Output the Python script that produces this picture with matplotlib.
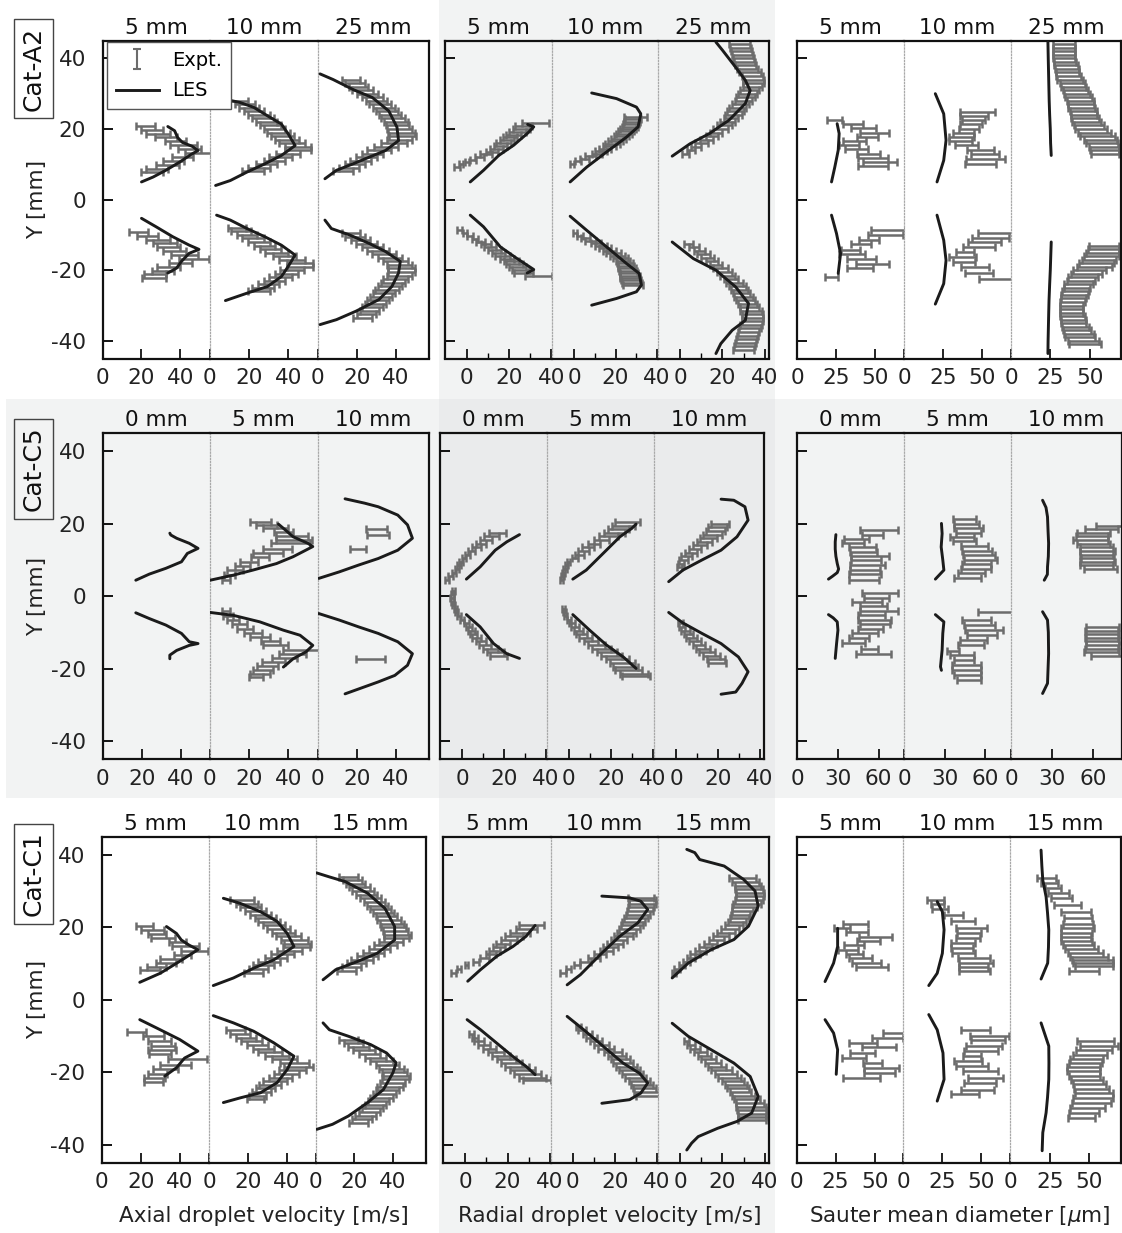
import numpy as np
import matplotlib
matplotlib.use("Agg")
import matplotlib.pyplot as plt
from matplotlib.patches import Rectangle

# ============================ DATA ============================
# Naming: <case>_<quantity>_<distance>_
#   uy/ux : LES upper branch (Y [mm], value)
#   ly/lx : LES lower branch
#   ey/ex/ee : experiment (Y [mm], value, half error)

# ---------------- Cat-A2 : axial velocity ----------------
a2_ax_5_uy = [5.0, 6.4, 8.3, 10.6, 12.8, 13.9, 15.1, 16.2, 17.6, 19.5, 20.7]
a2_ax_5_ux = [20, 26, 32.5, 39.5, 45.5, 49, 46, 41, 38.5, 37, 33.5]
a2_ax_5_ly = [-5.3, -7.7, -10.5, -12.9, -14.1, -15.2, -17.5, -19.4, -20.8]
a2_ax_5_lx = [20, 27.5, 36, 44.5, 49.5, 44.5, 40.5, 38, 33.5]
a2_ax_5_ey = [20.9, 19.8, 18.7, 17.6, 16.5, 15.4, 14.3, 13.2, 12.1, 11.0, 9.9, 8.8, 7.8,
              -9.1, -10.2, -11.3, -12.4, -13.5, -14.6, -15.7, -16.8, -17.9, -19.0, -20.1, -21.2, -22.3]
a2_ax_5_ex = [22, 25.5, 28.5, 32.5, 37.5, 41.5, 44.5, 49, 41, 36.5, 33.5, 28, 25.5,
              18.5, 23, 28.5, 32, 34, 37, 42, 47, 40, 34, 31, 27, 26.5]
a2_ax_5_ee = [4.7, 5.5, 6, 5.5, 5.5, 7, 6, 6.5, 5.5, 5.5, 6, 5.5, 5.5,
              4.8, 5.5, 6, 6, 6, 6, 7, 7.5, 6, 6, 5.5, 5.5, 6]

a2_ax_10_uy = [4.0, 5.4, 7.8, 10.1, 12.5, 15.3, 18.6, 21.4, 23.7, 26.1, 27.5, 28.2]
a2_ax_10_ux = [3, 10.5, 19, 28, 36.5, 43.5, 40, 36.5, 29.5, 22.5, 15.5, 9.5]
a2_ax_10_ly = [-4.4, -5.8, -8.2, -10.5, -12.9, -15.7, -18.9, -21.8, -24.6, -26.5, -28.6]
a2_ax_10_lx = [3.5, 10.5, 19, 28, 36.5, 43.5, 40, 36.5, 29.5, 19, 8]
a2_ax_10_ey = [28, 27, 26, 25, 24, 23, 22, 21, 20, 19, 18, 17, 16, 15, 14, 13, 12, 11, 10, 9, 8,
               -8, -9, -10, -11, -12, -13, -14, -15, -16, -17, -18, -19, -20, -21, -22, -23, -24, -25, -26]
a2_ax_10_ex = [15, 18, 20, 22.5, 25, 27, 29, 31, 33, 35, 37, 39.5, 42, 45, 45, 40, 36, 33, 29, 25, 22,
               14, 16, 19, 22, 25, 28, 31, 34, 38, 42, 46, 46, 42, 39, 36, 33, 30, 27, 25]
a2_ax_10_ee = [4.7, 5, 5, 5, 5.5, 5.5, 5.5, 5.5, 5.5, 6, 6, 6, 6.5, 6.5, 6.5, 6, 6, 5.5, 5.5, 5.5, 5.5,
               4.7, 5, 5, 5.5, 5.5, 5.5, 5.5, 6, 6, 6.5, 6.5, 6.5, 6, 6, 6, 5.5, 5.5, 5.5, 5.5]

a2_ax_25_uy = [5.9, 8.3, 10.1, 12.0, 13.9, 16.7, 20.5, 25.1, 28.9, 31.2, 34.0, 35.6]
a2_ax_25_ux = [3.7, 9.6, 18, 26.3, 34.7, 41.4, 40.6, 36.4, 28, 18, 7.9, 1.2]
a2_ax_25_ly = [-5.8, -8.2, -10.0, -12.4, -14.7, -17.5, -20.8, -24.6, -28.3, -31.6, -34.0, -35.4]
a2_ax_25_lx = [3.7, 7, 16.3, 26.3, 34.7, 42.3, 41.4, 38, 31.4, 19.6, 9.6, 1.2]
a2_ax_25_ey = [34, 33, 32, 31, 30, 29, 28, 27, 26, 25, 24, 23, 22, 21, 20, 19, 18, 17, 16, 15, 14, 13, 12, 11, 10, 9, 8,
               -9.5, -10.5, -11.5, -12.5, -13.5, -14.5, -15.5, -16.5, -17.5, -18.5, -19.5, -20.5, -21.5,
               -22.5, -23.5, -24.5, -25.5, -26.5, -27.5, -28.5, -29.5, -30.5, -31.5, -32.5, -33.5]
a2_ax_25_ex = [17, 19, 21, 23, 25.5, 28, 30, 32, 34, 35.5, 37, 38.5, 40, 41, 42, 43, 43.5, 42, 39, 35, 31.5, 28, 25, 22, 19, 16, 13,
               17, 19, 22, 25, 28, 31, 34, 37, 40, 42, 43, 43, 42, 40, 38.5, 37, 35.5, 34, 32.5, 31, 29.5, 28, 26.5, 25, 23]
a2_ax_25_ee = [4.6, 5, 5, 5.5, 5.5, 5.5, 5.5, 5.5, 5.5, 5.5, 5.5, 6, 6, 6, 6.5, 7, 7, 6.5, 6.5, 6, 6, 5.5, 5.5, 5.5, 5, 5, 5,
               4.5, 5, 5, 5.5, 5.5, 5.5, 6, 6, 6.5, 6.5, 7, 7, 6.5, 6.5, 6, 6, 6, 5.5, 5.5, 5.5, 5.5, 5.5, 5, 5, 5]

# ---------------- Cat-A2 : radial velocity ----------------
a2_ra_5_uy = [5.0, 8.3, 12.5, 15.4, 18.7, 20.6, 21.3]
a2_ra_5_ux = [1.6, 7.9, 15.1, 22.2, 28.6, 31.7, 28.8]
a2_ra_5_ly = [-4.4, -7.7, -13.4, -16.7, -19.8, -20.8]
a2_ra_5_lx = [1.6, 7.9, 15.9, 23.8, 31.7, 28.6]
a2_ra_5_ey = [9.2, 10.0, 10.6, 11.3, 12.0, 12.8, 13.6, 14.4, 15.2, 16.0, 16.8, 17.6, 18.4, 19.2, 20.0, 20.8, 21.6,
              -8.7, -9.5, -10.3, -11.1, -11.9, -12.7, -13.5, -14.3, -15.1, -15.9, -16.7, -17.5, -18.3, -19.1, -19.9, -20.7, -21.5]
a2_ra_5_ex = [-4.8, -2.8, 0, 3, 6, 9, 12, 14, 16, 17.5, 19, 20.5, 22, 24, 26, 27, 32.5,
              -3.5, -1, 1.5, 4, 6.5, 9, 11, 13, 15, 17, 19, 21, 22.5, 24, 25.5, 27, 34]
a2_ra_5_ee = [1.5, 1, 1, 1.5, 2, 2.8, 3, 3, 3, 3.5, 3.5, 3.5, 3.5, 4, 4, 4, 6.5,
              1, 1, 1.2, 1.5, 2, 2.5, 3, 3, 3, 3.5, 3.5, 3.5, 4, 4, 4, 4.5, 6.3]

a2_ra_10_uy = [5.0, 9.2, 13.5, 17.7, 20.6, 24.3, 26.2, 28.6, 30.2]
a2_ra_10_ux = [-1.9, 6.1, 15.7, 25.3, 30.9, 32.2, 30.1, 20.5, 8.5]
a2_ra_10_ly = [-4.7, -8.7, -13.4, -18.1, -20.9, -24.2, -26.1, -28.0, -29.9]
a2_ra_10_lx = [-1.9, 6.1, 15.7, 25.3, 31.4, 32.5, 30.1, 20.5, 8.5]
a2_ra_10_ey = [10.2, 10.9, 11.6, 12.3, 13.0, 13.7, 14.4, 15.1, 15.8, 16.5, 17.2, 17.9, 18.6, 19.3, 20.0, 20.7, 21.4, 22.1, 22.8, 23.5,
               -9.6, -10.3, -11.0, -11.7, -12.4, -13.1, -13.8, -14.5, -15.2, -15.9, -16.6, -17.3, -18.0, -18.7, -19.4,
               -20.1, -20.8, -21.5, -22.2, -22.9, -23.6, -24.3]
a2_ra_10_ex = [-1, 2, 5, 8, 11, 13, 15, 17, 18.5, 20, 21.5, 23, 24, 25, 26, 27, 27.5, 28, 28.5, 29.5,
               0.5, 3, 5.5, 8, 10.5, 13, 15, 17, 19, 21, 22.5, 23.5, 24.5, 25, 25.5, 26, 26.5, 27, 27, 27.5, 28, 28.5]
a2_ra_10_ee = [1, 1.5, 2, 2.5, 2.5, 3, 3, 3, 3.5, 3.5, 3.5, 3.5, 4, 4, 4, 4, 4, 4, 4, 5.5,
               1, 1.5, 2, 2.5, 2.5, 3, 3, 3, 3.5, 3.5, 3.5, 3.5, 4, 4, 4.5, 4.5, 4.5, 5, 5, 5, 5, 5]

a2_ra_25_uy = [12.3, 15.8, 18.7, 22.5, 27.2, 30.9, 33.8, 37.5, 42.3, 44.6]
a2_ra_25_ux = [-3.8, 4.6, 13.8, 23.1, 30.8, 33.1, 30.8, 26.2, 20, 16.9]
a2_ra_25_ly = [-12.0, -16.7, -20.0, -24.7, -29.4, -34.2, -37.0, -40.8, -43.6]
a2_ra_25_lx = [-3.8, 6.2, 16.9, 26.2, 32.3, 30.8, 24.6, 19.2, 16.9]
a2_ra_25_ey = [13, 14, 15, 16, 17, 18, 19, 20, 21, 22, 23, 24, 25, 26, 27, 28, 29, 30, 31, 32, 33, 34, 35, 36, 37,
               38, 39, 40, 41, 42, 43, 44,
               -12.5, -13.5, -14.5, -15.5, -16.5, -17.5, -18.5, -19.5, -20.5, -21.5, -22.5, -23.5, -24.5, -25.5,
               -26.5, -27.5, -28.5, -29.5, -30.5, -31.5, -32.5, -33.5, -34.5, -35.5, -36.5, -37.5, -38.5, -39.5,
               -40.5, -41.5, -42.5]
a2_ra_25_ex = [2.5, 5, 7.5, 10, 12.5, 15, 17, 19, 21, 22.5, 24, 25, 26, 27, 28.5, 30, 31, 32, 33, 34, 34.5, 34.5, 34,
               33, 32, 31, 30.5, 30, 29.5, 29, 28.5, 28,
               4, 6.5, 9, 11, 13, 15, 17, 19, 21, 22.5, 24, 25.5, 27, 28, 29, 30, 31, 32, 33, 33.5, 34, 34, 34, 33.5,
               33, 32.5, 32, 31.5, 31, 30.5, 30]
a2_ra_25_ee = [1.5, 2, 2.5, 3, 3, 3, 3, 3.5, 3.5, 3.5, 3.5, 4, 4, 4, 4, 4, 4.5, 4.5, 4.5, 4.5, 5, 5, 5, 5, 5, 5, 5, 5,
               5, 5, 5, 5,
               2, 2.5, 2.5, 3, 3, 3, 3, 3.5, 3.5, 3.5, 3.5, 4, 4, 4, 4, 4.5, 4.5, 4.5, 4.5, 5, 5, 5, 5, 5, 5, 5, 5,
               5, 5, 5, 5]

# ---------------- Cat-A2 : Sauter mean diameter ----------------
a2_sm_5_uy = [5.0, 9.2, 14.0, 18.7, 21.5]
a2_sm_5_ux = [21.9, 24, 26.2, 26.8, 25.5]
a2_sm_5_ly = [-4.4, -9.6, -15.3, -20.9]
a2_sm_5_lx = [21.9, 25.1, 27.7, 26.2]
a2_sm_5_ey = [22.6, 21.5, 20.3, 18.9, 17.7, 16.6, 15.4, 14.2, 13.0, 11.8, 10.7, 9.5,
              -8.7, -9.9, -11.3, -12.7, -14.2, -15.3, -16.7, -18.1, -19.5, -21.9]
a2_sm_5_ex = [24, 35.5, 42.5, 49.5, 45, 36.5, 33, 38, 45.5, 48.5, 53, 48.5,
              58, 56.5, 46, 41, 34, 35, 41, 48, 40, 22]
a2_sm_5_ee = [4.8, 6.5, 8, 9.5, 6.5, 7.5, 6.5, 7.5, 7.5, 9.5, 11, 9.5,
              11, 11, 6.5, 6.5, 6, 8.5, 9.5, 10.5, 8.5, 4.3]

a2_sm_10_uy = [5.0, 11.1, 16.8, 24.3, 30.0]
a2_sm_10_ux = [21, 25.3, 26.8, 25.3, 19.9]
a2_sm_10_ly = [-4.4, -11.5, -17.2, -23.8, -29.6]
a2_sm_10_lx = [21, 25.3, 26.8, 25.3, 19.9]
a2_sm_10_ey = [24.8, 23.6, 22.5, 21.3, 20.1, 18.9, 17.7, 16.5, 15.4, 14.0, 12.8, 11.6, 10.2,
               -9.6, -10.8, -12.0, -13.4, -14.8, -16.2, -17.6, -19.1, -20.8, -22.4]
a2_sm_10_ex = [47, 45, 44.5, 43, 41.5, 38, 36.5, 36, 40, 49, 51.5, 52, 49,
               59.5, 55.5, 51.5, 48, 39, 37.5, 38.5, 45.5, 48, 59.5]
a2_sm_10_ee = [11, 9, 7.5, 7, 6.5, 7, 8, 7.5, 7.5, 8.5, 9, 12.5, 10,
               12.5, 12, 10.5, 10.5, 6, 8.5, 7, 9, 9, 11.5]

a2_sm_25_uy = [12.5, 16, 20, 24, 28, 32, 36, 40, 44.6]
a2_sm_25_ux = [25.6, 25.2, 25.0, 24.6, 24.3, 24.1, 23.9, 23.7, 23.5]
a2_sm_25_ly = [-12, -16, -20, -24, -28.5, -32, -36, -40, -43.6]
a2_sm_25_lx = [25.6, 25.3, 25, 24.6, 24.2, 24.0, 23.8, 23.6, 23.5]
a2_sm_25_ey = [13, 14, 15, 16, 17, 18, 19, 20, 21, 22, 23, 24, 25, 26, 27, 28, 29, 30, 31, 32, 33, 34, 35, 36, 37,
               38, 39, 40, 41, 42, 43, 44,
               -13, -14, -15, -16, -17, -18, -19, -20, -21, -22, -23, -24, -25, -26, -27, -28, -29, -30, -31, -32,
               -33, -34, -35, -36, -37, -38, -39, -40, -41]
a2_sm_25_ex = [60, 59.5, 59, 58, 57, 55, 53, 51, 49.5, 48, 47, 46.5, 46, 45, 44.5, 44, 43, 42, 41, 40, 39, 37.5, 36.5,
               36, 35.5, 35, 34.5, 34, 34, 33.5, 33.5, 33.5,
               59, 59, 58.5, 57.5, 56, 54.5, 53, 50, 48, 46, 44.5, 43, 42, 41, 40.5, 40, 39, 38.5, 38.5, 38.5, 39,
               39.5, 40, 41, 42, 43, 44, 46, 47]
a2_sm_25_ee = [9, 9, 9.5, 10, 10.5, 11, 10.5, 10, 9.5, 9, 9, 8.5, 8.5, 8.5, 8.5, 8.5, 8.5, 8.5, 8, 8, 8, 8, 8, 7.5,
               7.5, 7.5, 7, 7, 7, 7, 7, 7,
               9.5, 10, 10.5, 11, 11, 11, 11, 10.5, 10, 9.5, 9, 9, 8.5, 8.5, 8.5, 8, 8, 7.5, 7.5, 7.5, 8, 8, 8, 8.5,
               9, 9.5, 9.5, 10, 10]

# ---------------- Cat-C5 : axial velocity ----------------
c5_ax_0_uy = [4.4, 6.1, 7.7, 9.5, 11.8, 13.2, 14.6, 16.0, 16.9, 17.4]
c5_ax_0_ux = [17, 24, 32.5, 40.5, 43.5, 49, 44.5, 38, 35, 34.5]
c5_ax_0_ly = [-4.6, -6.2, -8.0, -10.3, -12.6, -13.1, -13.6, -15.0, -16.3, -17.3]
c5_ax_0_lx = [17, 24, 32.5, 40.5, 44.5, 49, 44.5, 38, 34.5, 34.5]
c5_ax_0_ey = []
c5_ax_0_ex = []
c5_ax_0_ee = []

c5_ax_5_uy = [4.4, 5.8, 7.2, 9.0, 10.9, 13.7, 14.6, 16.4, 18.3, 19.9]
c5_ax_5_ux = [0.2, 12, 22, 34, 42.5, 52.5, 50, 42.5, 38.5, 35]
c5_ax_5_ly = [-4.5, -5.3, -7.1, -9.4, -10.8, -13.6, -15.4, -17.3, -19.6]
c5_ax_5_lx = [0.2, 12, 25.5, 37.5, 46, 52.5, 49, 42.5, 37.5]
c5_ax_5_ey = [20.6, 19.7, 18.7, 17.8, 16.6, 15.5, 14.6, 12.9, 11.8, 10.9, 9.5, 8.4, 7.2, 5.8, 4.4,
              -4.2, -5.5, -6.6, -7.8, -9.0, -10.1, -11.3, -12.4, -13.6, -15.0, -15.9, -17.0, -18.2, -19.3, -20.5,
              -21.6, -22.3]
c5_ax_5_ex = [26, 29, 33.5, 37.5, 42, 43, 41, 34.5, 29.5, 25.5, 20, 16.5, 13, 10, 8.5,
              8.5, 9.5, 12, 15, 18, 22, 25.5, 31, 33.5, 47, 42, 38, 32.5, 29.5, 27, 25.5, 23.5]
c5_ax_5_ee = [5.3, 5.5, 6.4, 4.7, 8, 9.3, 10, 7.2, 7.6, 4.7, 4.7, 3.8, 4.2, 2.8, 2,
              2, 2.5, 3, 3.8, 4.2, 4.7, 5, 5, 6.4, 9.7, 6.8, 6.4, 6, 5.5, 5, 5, 3.5]

c5_ax_10_uy = [4.9, 6.7, 8.6, 10.4, 12.7, 16.0, 19.7, 22.4, 24.7, 25.7, 26.9]
c5_ax_10_ux = [0.5, 11, 21, 31, 41, 48.5, 46, 41, 31, 24, 14]
c5_ax_10_ly = [-4.8, -6.6, -8.5, -10.3, -12.6, -15.9, -19.1, -21.9, -23.7, -27.0]
c5_ax_10_lx = [0.5, 11, 21, 31, 41, 48.5, 46, 39.5, 31, 14]
c5_ax_10_ey = [18.5, 17.0, 13.0, -17.5]
c5_ax_10_ex = [30, 31, 20.5, 27]
c5_ax_10_ee = [5.5, 5.5, 4.2, 7.5]

# ---------------- Cat-C5 : radial velocity ----------------
c5_ra_0_uy = [4.7, 8.1, 12.7, 15.0, 17.0]
c5_ra_0_ux = [2.1, 8.7, 15.9, 21.4, 27.5]
c5_ra_0_ly = [-5.1, -8.5, -13.1, -15.9, -17.2]
c5_ra_0_lx = [2.1, 8.7, 15.1, 21.4, 27.5]
c5_ra_0_ey = [4.5, 5.5, 6.5, 7.5, 8.5, 9.5, 10.5, 11.5, 12.5, 13.5, 14.5, 15.5, 16.5, 17.5,
              1.5, 0.5, -0.5, -1.5, -2.5, -3.5, -4.5, -5.5, -6.5, -7.5, -8.5, -9.5, -10.5, -11.5, -12.5, -13.5,
              -14.5, -15.5, -16.5]
c5_ra_0_ex = [-7, -5.5, -4, -2.5, -1.5, -0.5, 1, 2.5, 4.5, 7, 9, 11.5, 14, 17,
              -4, -4.5, -4.8, -4.5, -4, -3.2, -2.5, -1.5, 0, 2, 3.5, 4.5, 5.5, 7, 9, 11, 13.5, 16, 17.5]
c5_ra_0_ee = [1, 1, 1, 1, 1, 1, 1, 1.2, 1.5, 2, 2.5, 3, 3.5, 4,
              0.8, 0.8, 0.8, 0.8, 0.8, 0.8, 0.8, 1, 1, 1.2, 1.5, 1.5, 1.5, 2, 2.5, 3, 3.5, 4, 4]

c5_ra_5_uy = [4.7, 7.2, 11.8, 16.4, 18.7, 19.9]
c5_ra_5_ux = [1.9, 8.3, 16.3, 24.3, 29.9, 32]
c5_ra_5_ly = [-5.1, -9.4, -13.5, -16.8, -20.0]
c5_ra_5_lx = [1.9, 9.9, 17.9, 25.9, 32]
c5_ra_5_ey = [4.5, 5.5, 6.5, 7.5, 8.5, 9.5, 10.5, 11.5, 12.5, 13.5, 14.5, 15.5, 16.5, 17.5, 18.5, 19.5, 20.5,
              -3.5, -4.5, -5.5, -6.5, -7.5, -8.5, -9.5, -10.5, -11.5, -12.5, -13.5, -14.5, -15.5, -16.5, -17.5,
              -18.5, -19.5, -20.5, -21.5, -22.0]
c5_ra_5_ex = [-3.5, -3, -2.5, -1.8, -1, 0, 3, 5, 7, 9, 12, 15.5, 19, 21.5, 23.5, 26, 28,
              -2.5, -2, -1.5, 0, 1.5, 3, 4.5, 6, 8, 10.5, 13, 15.5, 18, 20.5, 23, 25.5, 27, 28.5, 31, 32]
c5_ra_5_ee = [0.8, 0.8, 0.8, 0.8, 0.8, 0.8, 1.5, 2, 2.5, 2.8, 3, 3.5, 4.5, 5, 5, 5.5, 6,
              0.8, 0.8, 0.8, 1, 1.5, 1.8, 2.2, 2.5, 3, 3.5, 4, 4.5, 4.8, 5, 5.5, 6, 6, 6.4, 6.5, 6.6]

c5_ra_10_uy = [4.0, 7.2, 10.0, 12.7, 16.4, 21.0, 24.7, 26.5, 26.8]
c5_ra_10_ux = [-3.5, 3.3, 12.4, 21.5, 29.1, 34.4, 32.9, 27.6, 21.5]
c5_ra_10_ly = [-4.5, -7.4, -10.3, -13.1, -16.8, -20.9, -24.1, -26.5, -27.1]
c5_ra_10_lx = [-3.5, 3.3, 12.4, 21.5, 29.8, 34.4, 31.5, 28.5, 21.5]
c5_ra_10_ey = [8, 9, 10, 11, 12, 13, 14, 15, 16, 17, 18, 19, 20,
               -7.5, -8.5, -9.5, -10.5, -11.5, -12.5, -13.5, -14.5, -15.5, -16.5, -17.5, -18.5]
c5_ra_10_ex = [1.5, 2.5, 3.5, 5, 7, 9, 11.5, 13.5, 15.5, 17.5, 19, 20, 21,
               2, 3, 4.5, 6, 7.5, 9, 11, 13, 15, 17, 19, 19.5]
c5_ra_10_ee = [1.2, 1.5, 2, 2.5, 2.8, 3, 3.3, 3.5, 4, 4.5, 4.5, 4.5, 4.5,
               1.2, 1.5, 2, 2.2, 2.5, 2.8, 3, 3.3, 3.8, 4, 4.2, 4.3]

# ---------------- Cat-C5 : Sauter mean diameter ----------------
c5_sm_0_uy = [4.7, 5.5, 6.5, 7.5, 9.0, 11.0, 13.0, 15.0, 17.0]
c5_sm_0_ux = [23, 26, 29.5, 30.5, 29.5, 28.5, 28, 28, 28.5]
c5_sm_0_ly = [-5.1, -6.0, -7.1, -9.4, -13.1, -17.2]
c5_sm_0_lx = [23, 26.5, 29.5, 30, 29, 28]
c5_sm_0_ey = [18.2, 17.0, 15.9, 14.7, 13.6, 12.3, 11.1, 10.0, 8.6, 7.2, 6.0, 4.4,
              0.9, -0.4, -1.6, -2.8, -4.1, -5.3, -6.6, -7.7, -9.2, -10.3, -11.7, -12.9, -14.5, -15.9]
c5_sm_0_ex = [60, 55.5, 44, 41, 48, 49, 53.5, 50.5, 52, 50, 50, 49,
              61, 58.5, 51.5, 56.5, 60, 55, 57, 57.5, 54, 50, 45.5, 41.5, 53.5, 56.5]
c5_sm_0_ee = [14, 7.5, 9.3, 8, 10, 10, 14, 11, 13, 11, 11.5, 11,
              13, 9, 11, 10, 14, 10, 12, 11, 9, 9.3, 7.5, 8.7, 6.2, 13]

c5_sm_5_uy = [4.7, 7.2, 10.0, 13.6, 17.3, 20.1]
c5_sm_5_ux = [23, 29.3, 28.5, 27.3, 28, 27.5]
c5_sm_5_ly = [-5.1, -7.1, -10.3, -14.9, -19.5, -20.5]
c5_sm_5_lx = [23, 29.3, 28.5, 28, 26.8, 27.5]
c5_sm_5_ey = [21.2, 19.9, 18.7, 17.5, 16.4, 15.3, 13.8, 12.5, 11.3, 10.1, 8.8, 7.6, 6.5, 5.1,
              -4.3, -6.6, -8.0, -9.4, -10.8, -12.2, -13.5, -15.1, -16.3, -17.7, -19.1, -20.5, -21.8, -23.2]
c5_sm_5_ex = [44.5, 46, 47.5, 47.5, 42.5, 44.5, 52, 54, 55, 56.5, 53.5, 53, 50, 47,
              68, 53.5, 55.5, 59, 57.5, 51, 49.5, 36, 42.5, 44, 46, 46, 47, 48]
c5_sm_5_ee = [8.4, 9.4, 10.6, 9.4, 9, 8.8, 10, 11.3, 11.9, 12, 10.6, 11.3, 10, 10,
              13.8, 10.6, 11.3, 13.8, 11.3, 10, 9.4, 4.4, 8.8, 7.5, 10.6, 10.6, 10, 8.8]

c5_sm_10_uy = [4.4, 6.0, 8.1, 11.0, 14.6, 18.0, 21.9, 24.5, 26.5]
c5_sm_10_ux = [24.2, 26.5, 26.6, 27.2, 27.4, 27.0, 26.6, 25.5, 23]
c5_sm_10_ly = [-4.3, -6.6, -10.0, -15.9, -20.0, -24.1, -26.9]
c5_sm_10_lx = [23, 26.6, 27.2, 27.4, 27, 26.6, 23]
c5_sm_10_ey = [19.5, 18.5, 17.5, 16.5, 15.5, 14.5, 13.5, 12.5, 11.5, 10.5, 9.5, 8.5, 7.5,
               -8.5, -9.5, -10.5, -11.5, -12.5, -13.5, -14.5, -15.5, -16.5]
c5_sm_10_ex = [72, 66, 60, 59, 58, 60, 62, 63, 62, 63, 63, 62, 65,
               67, 66, 67, 66, 67, 67, 66, 66, 70]
c5_sm_10_ee = [10, 12, 12, 12, 13, 12, 12, 13, 12, 12, 13, 12, 12,
               12, 12, 12, 12, 12, 12, 12, 13, 12]

# ---------------- Cat-C1 : axial velocity ----------------
c1_ax_5_uy = [4.8, 7.3, 10.6, 13.8, 15.1, 16.5, 18.3, 20.2]
c1_ax_5_ux = [19.5, 30, 40, 49.3, 44.7, 40.8, 38.3, 33.2]
c1_ax_5_ly = [-5.5, -8.3, -11.0, -14.2, -16.1, -18.8, -21.1]
c1_ax_5_lx = [19.5, 30, 40, 49.3, 42.5, 38.3, 32.3]
c1_ax_5_ey = [20.4, 19.3, 18.2, 17.0, 15.9, 14.7, 13.5, 12.4, 11.3, 10.1, 9.0, 8.1,
              -9.0, -10.1, -11.5, -12.7, -13.9, -15.1, -16.5, -17.9, -19.1, -20.4, -21.6, -22.8]
c1_ax_5_ex = [22, 26, 28.5, 31.5, 39, 43, 47.5, 41.5, 35.5, 33, 28, 24.7,
              18, 26.5, 29.5, 31.5, 31, 30, 44, 38, 32.5, 28.5, 27, 26.5]
c1_ax_5_ee = [4.4, 6, 4.7, 6, 4.3, 6.8, 6.8, 4.3, 5.5, 5, 5, 5,
              4.8, 5.5, 6, 6, 7.2, 5.5, 9.8, 8, 6.4, 5, 5.5, 5]

c1_ax_10_uy = [3.9, 6.0, 8.7, 11.0, 14.7, 18.3, 21.6, 24.3, 26.6, 28.0]
c1_ax_10_ux = [2.2, 12.6, 23, 33.4, 43.8, 40.3, 35.1, 26.5, 16.1, 7.4]
c1_ax_10_ly = [-4.4, -6.4, -8.7, -11.9, -15.6, -19.3, -22.9, -25.7, -27.1, -28.4]
c1_ax_10_lx = [2.2, 12.6, 23, 33.4, 43.8, 40.3, 35.1, 26.5, 16.1, 7.4]
c1_ax_10_ey = [27.5, 26.5, 25.5, 24.5, 23.5, 22.5, 21.5, 20.5, 19.5, 18.5, 17.5, 16.5, 15.5, 14.5, 13.5, 12.5,
               11.5, 10.5, 9.5, 8.5, 7.5,
               -8.5, -9.5, -10.5, -11.5, -12.5, -13.5, -14.5, -15.5, -16.5, -17.5, -18.5, -19.5, -20.5, -21.5,
               -22.5, -23.5, -24.5, -25.5, -26.5, -27.5]
c1_ax_10_ex = [17, 19.5, 21.5, 24, 26.5, 29, 31, 33.5, 36, 38.5, 41, 44, 45.5, 45, 41.5, 38, 34.5, 31, 28, 25.5, 23,
               13.5, 16, 19, 22, 25, 28, 31.5, 35, 39, 44, 46, 43, 40, 37, 34, 31.5, 29, 27, 25, 24]
c1_ax_10_ee = [6, 5.5, 5.5, 5.5, 5.5, 5.5, 5.5, 5.5, 6, 6, 6.5, 7, 7, 7, 6.5, 6, 5.5, 5.5, 5.5, 5, 5,
               4.8, 5, 5, 5.5, 5.5, 5.5, 6, 6, 6.5, 7.5, 7.5, 7, 6.5, 6, 6, 5.5, 5, 5, 4.5, 4.3]

c1_ax_15_uy = [5.5, 8.3, 10.6, 12.8, 16.5, 20.2, 25.2, 29.4, 32.6, 33.9, 35.0]
c1_ax_15_ux = [3.8, 10.4, 21.9, 31.8, 40.9, 40.9, 35.9, 26.9, 15.3, 7.1, 0.5]
c1_ax_15_ly = [-6.4, -8.3, -10.1, -12.4, -14.7, -17.4, -20.2, -24.8, -28.4, -32.1, -34.4, -35.8]
c1_ax_15_lx = [3.8, 7.1, 17, 28.5, 36.7, 41.7, 40, 35.1, 26.9, 17, 8.7, 0.5]
c1_ax_15_ey = [34, 33, 32, 31, 30, 29, 28, 27, 26, 25, 24, 23, 22, 21, 20, 19, 18, 17, 16, 15, 14, 13, 12, 11, 10, 9, 8,
               -11, -12, -13, -14, -15, -16, -17, -18, -19, -20, -21, -22, -23, -24, -25, -26, -27, -28, -29,
               -30, -31, -32, -33, -34]
c1_ax_15_ex = [17, 19, 20.5, 22.5, 24.5, 26.5, 28.5, 30.5, 32, 33.5, 35, 36.5, 38, 39.5, 40.5, 41.5, 42.5, 42, 39, 36,
               33, 30, 27, 24, 21, 18.5, 16,
               17, 19.5, 22, 25, 28, 31, 34, 37, 39.5, 41, 42, 41.5, 40, 38.5, 37, 35.5, 34, 32.5, 31, 29.5, 28,
               26, 24, 22]
c1_ax_15_ee = [5, 5, 5, 5.5, 5.5, 5.5, 5.5, 5.5, 5.5, 5.5, 5.5, 5.5, 6, 6, 6.5, 6.5, 7, 6.5, 6, 6, 5.5, 5.5, 5.5,
               5.5, 5, 5, 5,
               5, 5, 5.5, 5.5, 5.5, 5.5, 6, 6, 6.5, 6.5, 7, 7, 6.5, 6.5, 6, 6, 6, 5.5, 5.5, 5.5, 5.5, 5.5, 5, 5]

# ---------------- Cat-C1 : radial velocity ----------------
c1_ra_5_uy = [5.1, 8.3, 12.0, 14.7, 17.5, 20.5]
c1_ra_5_ux = [1.1, 7.2, 14.9, 22.6, 28.8, 33.1]
c1_ra_5_ly = [-5.5, -8.3, -12.0, -15.7, -18.4, -20.7]
c1_ra_5_lx = [0.8, 7.2, 14.9, 22.6, 28.8, 33.1]
c1_ra_5_ey = [7.5, 8.5, 9.5, 10.5, 11.5, 12.5, 13.5, 14.5, 15.5, 16.5, 17.5, 18.5, 19.5, 20.5,
              -9.5, -10.5, -11.5, -12.5, -13.5, -14.5, -15.5, -16.5, -17.5, -18.5, -19.5, -20.5, -21.5, -22.2]
c1_ra_5_ex = [-5.5, -3, 0.5, 5, 9, 12, 14, 16, 18, 20.5, 23, 26, 29, 31.5,
              3, 4.5, 6.5, 9, 11.5, 14.5, 17, 19.5, 22, 24.5, 27, 29.5, 32, 34]
c1_ra_5_ee = [1.2, 1, 0.8, 1.5, 2, 2.3, 2.6, 3, 3.4, 3.8, 4.2, 4.8, 5.2, 6,
              1.2, 1.5, 2.2, 2.8, 3.2, 3.8, 4.2, 4.5, 5, 5.5, 6, 6.5, 6.5, 6.8]

c1_ra_10_uy = [4.1, 6.9, 12.4, 17.5, 21.2, 24.9, 27.2, 28.1, 28.6]
c1_ra_10_ux = [-2.7, 3.6, 13, 22.3, 30.9, 35.6, 32.3, 27, 13.8]
c1_ra_10_ly = [-4.6, -8.3, -12.9, -17.5, -20.3, -23.0, -25.8, -27.6, -28.6]
c1_ra_10_lx = [-2.7, 5.2, 14.5, 23.9, 31.7, 35.6, 32.3, 27, 13.8]
c1_ra_10_ey = [7.5, 8.5, 9.5, 10.5, 11.5, 12.5, 13.5, 14.5, 15.5, 16.5, 17.5, 18.5, 19.5, 20.5, 21.5, 22.5, 23.5,
               24.5, 25.5, 26.5, 27.5, 28.2,
               -7.5, -8.5, -9.5, -10.5, -11.5, -12.5, -13.5, -14.5, -15.5, -16.5, -17.5, -18.5, -19.5, -20.5,
               -21.5, -22.5, -23.5, -24.5, -25.5, -26.5]
c1_ra_10_ex = [-4.5, -2, 2, 6, 10, 13, 16, 18, 20, 22, 24, 25.5, 27, 28, 29, 30, 31, 32, 32.5, 33, 33, 32.5,
               2.5, 4.5, 7, 9, 11, 13.5, 16, 19, 21, 22.5, 24, 25.5, 27, 28.5, 30, 31.5, 33, 34, 35, 35.5]
c1_ra_10_ee = [1.5, 1, 1.5, 2.5, 3, 3, 3.2, 3.5, 3.8, 4, 4.5, 4.7, 5, 5.3, 5.5, 5.6, 5.8, 6, 6.3, 6.5, 6.5, 6.2,
               1.2, 1.8, 2.3, 2.7, 3, 3.5, 3.8, 4.2, 4.4, 4.5, 4.7, 4.8, 5, 5, 5, 5, 5.2, 5.5, 5.8, 5.5]

c1_ra_15_uy = [6.0, 10.1, 13.8, 16.6, 20.3, 25.8, 30.0, 33.2, 36.9, 38.7, 40.6, 41.5]
c1_ra_15_ux = [-3.8, 3.8, 14.6, 25.4, 32.3, 36.9, 35.4, 30, 20.8, 9.2, 6.9, 3.1]
c1_ra_15_ly = [-6.5, -10.1, -13.8, -17.5, -21.2, -26.7, -31.3, -33.6, -35.5, -37.8, -39.6, -41.5]
c1_ra_15_lx = [-3.8, 3.8, 14.6, 25.4, 33.1, 36.9, 33.8, 26.9, 17.7, 8.5, 5.4, 3.1]
c1_ra_15_ey = [7.5, 8.5, 9.5, 10.5, 11.5, 12.5, 13.5, 14.5, 15.5, 16.5, 17.5, 18.5, 19.5, 20.5, 21.5, 22.5, 23.5,
               24.5, 25.5, 26.5, 27.5, 28.5, 29.5, 30.5, 31.5, 32.5, 33.5,
               -11.5, -12.5, -13.5, -14.5, -15.5, -16.5, -17.5, -18.5, -19.5, -20.5, -21.5, -22.5, -23.5, -24.5,
               -25.5, -26.5, -27.5, -28.5, -29.5, -30.5, -31.5, -32.5, -33.3]
c1_ra_15_ex = [-3, -1.5, 1, 3, 5, 7, 9.5, 12, 14.5, 17, 19.5, 21.5, 23.5, 25.5, 27, 28, 28.5, 29.5, 30.5, 31.5, 32.5,
               33, 33, 32.5, 32, 31, 29.5,
               3, 5, 7, 9.5, 11.5, 13.5, 15.5, 17.5, 19.5, 21.5, 23.5, 25, 26.5, 27.5, 28.5, 30, 31.5, 33, 33.5,
               34, 34, 34, 34]
c1_ra_15_ee = [1, 1.2, 1.5, 1.8, 2, 2.3, 2.6, 2.9, 3.1, 3.5, 3.8, 4.2, 4.2, 4.2, 4.3, 4.5, 4.6, 5, 5.8, 6.5, 6.8, 6.8,
               6.7, 6.5, 6.3, 6.3, 6.5,
               1.2, 1.8, 2.4, 3, 3.3, 3.6, 3.9, 4.3, 4.8, 5.2, 5.4, 5.4, 5.3, 5.2, 5.1, 5.5, 6.2, 6.8, 7, 7, 6.8,
               6.6, 6.5]

# ---------------- Cat-C1 : Sauter mean diameter ----------------
c1_sm_5_uy = [5.0, 10.1, 14.7, 19.7]
c1_sm_5_ux = [18.2, 23.7, 26.3, 26.3]
c1_sm_5_ly = [-5.5, -9.2, -13.8, -20.6]
c1_sm_5_lx = [18.2, 23.7, 26.3, 25.4]
c1_sm_5_ey = [20.8, 19.8, 18.6, 17.4, 16.2, 15.0, 13.8, 12.6, 11.4, 10.2, 9.0,
              -9.2, -10.6, -11.9, -13.0, -14.7, -16.1, -17.4, -18.8, -20.2, -21.6]
c1_sm_5_ex = [38, 29, 39, 50.5, 46, 37, 33, 37, 41, 45, 48.5,
              67.5, 58.5, 42.5, 53, 42.5, 37, 48.5, 54.5, 53, 41.5]
c1_sm_5_ee = [8, 5, 7, 10.5, 7.5, 6.5, 6.5, 5.5, 7.7, 9.3, 10.4,
              12, 10, 9, 11, 8, 7.7, 6, 11.5, 9.9, 12]

c1_sm_10_uy = [3.9, 7.3, 12.8, 19.3, 24.3, 27.1]
c1_sm_10_ux = [16.3, 21.7, 25, 26.1, 25, 21.7]
c1_sm_10_ly = [-4.1, -8.3, -14.7, -22.0, -28.0]
c1_sm_10_lx = [16.3, 21.7, 25.4, 26.1, 21.7]
c1_sm_10_ey = [27.5, 26.4, 25.0, 23.4, 21.6, 19.7, 18.3, 17.0, 15.6, 14.2, 12.8, 11.5, 10.1, 8.9, 7.8,
               -8.3, -9.9, -11.2, -12.7, -14.2, -15.6, -17.0, -18.3, -19.7, -21.6, -23.1, -24.8, -26.1]
c1_sm_10_ex = [20.6, 22, 23.5, 32, 38, 43.5, 42, 41.5, 38, 37.5, 38.5, 45, 46.5, 45, 45.5,
               46, 55, 54, 51.5, 50, 44, 41.5, 44, 49.5, 52.5, 49, 47.5, 39.5]
c1_sm_10_ee = [5.4, 4.3, 5, 6, 7.6, 9.8, 7.6, 7.6, 7.6, 7, 7.6, 10.3, 10.9, 9.2, 9.8,
               9.2, 12.5, 10.9, 11.4, 10.9, 6, 9.2, 10.3, 11.4, 11.4, 10.3, 10.3, 9.2]

c1_sm_15_uy = [5.7, 10.1, 14.5, 19.3, 24, 28.4, 33.0, 37, 41.3]
c1_sm_15_ux = [19.5, 23.7, 24.2, 24.4, 23.6, 22.7, 20.6, 20, 19.5]
c1_sm_15_ly = [-6.4, -12.8, -17.5, -22.0, -27, -31.2, -36.7, -41.7]
c1_sm_15_lx = [19.5, 24.4, 24.5, 24.4, 23.6, 22.7, 20.6, 20.2]
c1_sm_15_ey = [33.5, 32.1, 30.7, 29.4, 28.0, 26.1, 24.3, 22.5, 21.0, 19.7, 18.5, 17.4, 16.2, 15.1, 14.0, 12.8, 11.9,
               11.0, 10.1, 9.2, 7.8,
               -11.5, -12.8, -14.0, -15.2, -16.4, -17.4, -18.6, -19.8, -21.0, -22.2, -23.4, -24.6, -25.7, -27.0,
               -28.4, -29.8, -31.2, -32.6]
c1_sm_15_ex = [23, 25, 27, 30.5, 32.5, 36.3, 41.6, 43, 43, 42.8, 42, 41.6, 42, 43.2, 45, 47.7, 50, 52, 52.5, 53, 46.5,
               54, 56, 53, 50.5, 48.5, 47.5, 46.5, 46.5, 47, 48.5, 50, 51.5, 53, 52.5, 51.5, 49, 46.5, 45]
c1_sm_15_ee = [5.8, 5.3, 5.3, 6.8, 6.8, 8.4, 9.5, 8.9, 9.5, 10.5, 10, 9.5, 9.8, 10, 10.5, 11, 12, 13, 12.5, 12, 9.5,
               11.5, 12, 11.5, 11, 10.5, 10.5, 10.3, 10.3, 10, 10, 10.5, 11, 12, 12.5, 12.6, 11, 9.5, 8.4]

# ---------------- labels / ticks ----------------
ROW_NAMES = ["Cat-A2", "Cat-C5", "Cat-C1"]
ROW_DISTANCES = [["5 mm", "10 mm", "25 mm"], ["0 mm", "5 mm", "10 mm"], ["5 mm", "10 mm", "15 mm"]]
X_LABELS = ["Axial droplet velocity [m/s]", "Radial droplet velocity [m/s]", "Sauter mean diameter [$\\mu$m]"]
Y_TICKS = [-40, -20, 0, 20, 40]
Y_TICK_LABELS = ["-40", "-20", "0", "20", "40"]
AXIAL_TICKS = [0, 20, 40]
RADIAL_TICKS = [0, 20, 40]
RADIAL_MINOR = [10, 30]
SMD_TICKS = [0, 25, 50]
SMD_TICKS_C5 = [0, 30, 60]

# ============================ TABLE ============================
def sec(p):
    g = globals()
    return dict(uy=g[p + "_uy"], ux=g[p + "_ux"], ly=g[p + "_ly"], lx=g[p + "_lx"],
                ey=g[p + "_ey"], ex=g[p + "_ex"], ee=g[p + "_ee"])

SECTIONS = [
    [[sec("a2_ax_5"), sec("a2_ax_10"), sec("a2_ax_25")],
     [sec("a2_ra_5"), sec("a2_ra_10"), sec("a2_ra_25")],
     [sec("a2_sm_5"), sec("a2_sm_10"), sec("a2_sm_25")]],
    [[sec("c5_ax_0"), sec("c5_ax_5"), sec("c5_ax_10")],
     [sec("c5_ra_0"), sec("c5_ra_5"), sec("c5_ra_10")],
     [sec("c5_sm_0"), sec("c5_sm_5"), sec("c5_sm_10")]],
    [[sec("c1_ax_5"), sec("c1_ax_10"), sec("c1_ax_15")],
     [sec("c1_ra_5"), sec("c1_ra_10"), sec("c1_ra_15")],
     [sec("c1_sm_5"), sec("c1_sm_10"), sec("c1_sm_15")]],
]

# ============================ LAYOUT ============================
W, H = 1122, 1233
fig = plt.figure(figsize=(W / 100, H / 100), dpi=100)
fig.patch.set_facecolor("white")

def frac(x0, y0, x1, y1):
    return [x0 / W, 1 - y1 / H, (x1 - x0) / W, (y1 - y0) / H]

BAND = "#f2f3f3"
DARK = "#eaebec"
for (x0, y0, x1, y1, col) in [(439, 0, 775, H, BAND), (6, 399, W, 798, BAND), (439, 399, 775, 798, DARK)]:
    fig.add_artist(Rectangle((x0 / W, 1 - y1 / H), (x1 - x0) / W, (y1 - y0) / H,
                             transform=fig.transFigure, facecolor=col, edgecolor="none", zorder=-5))

ROW_TB = [(40.7, 358.5), (433.3, 759.0), (836.7, 1162.7)]
COL_EDGES = [
    [[102.5, 209.7, 317.7, 429.0], [444.7, 552.3, 658.0, 769.0], [797.3, 904.3, 1011.0, 1121.0]],
    [[102.7, 209.7, 317.7, 429.0], [440.0, 546.7, 654.0, 764.0], [797.3, 904.3, 1011.0, 1121.5]],
    [[101.7, 209.0, 315.7, 425.7], [443.3, 550.7, 658.0, 769.0], [796.7, 903.3, 1010.3, 1120.7]],
]
XLIM_AX = [(0, 55), (0, 55), (0, 57)]
XLIM_RA = [(-10.5, 40.5), (-10.5, 40.5), (-10.5, 42)]
XLIM_SM = [(0, 68.5), (0, 68.5), (0, 70)]
XLIM_SM_C5 = [(0, 79), (0, 79), (0, 80.5)]

LES_COLOR = "#1b1b1b"
EXP_COLOR = "#6c6c6c"
SEP_COLOR = "#a9a9a9"
FS = 15.5
ELW = 1.8

legend_handles = None
for r in range(3):
    top, bot = ROW_TB[r]
    for c in range(3):
        edges = COL_EDGES[r][c]
        if c == 0:
            xlims, ticks = XLIM_AX, AXIAL_TICKS
        elif c == 1:
            xlims, ticks = XLIM_RA, RADIAL_TICKS
        else:
            xlims, ticks = (XLIM_SM_C5, SMD_TICKS_C5) if r == 1 else (XLIM_SM, SMD_TICKS)
        for s in range(3):
            d = SECTIONS[r][c][s]
            ax = fig.add_axes(frac(edges[s], top, edges[s + 1], bot))
            ax.set_facecolor("none")
            ax.set_xlim(*xlims[s])
            ax.set_ylim(-45, 45)
            for side in ("top", "bottom"):
                ax.spines[side].set_linewidth(1.6)
                ax.spines[side].set_color("#111111")
            if s == 0:
                ax.spines["left"].set_linewidth(1.6)
                ax.spines["left"].set_color("#111111")
            else:
                ax.spines["left"].set_linestyle((0, (1, 1.5)))
                ax.spines["left"].set_linewidth(0.9)
                ax.spines["left"].set_color(SEP_COLOR)
            if s == 2:
                ax.spines["right"].set_linewidth(1.6)
                ax.spines["right"].set_color("#111111")
            else:
                ax.spines["right"].set_visible(False)

            ax.set_xticks(ticks)
            ax.set_xticklabels([str(t) for t in ticks])
            if c == 1:
                ax.set_xticks(RADIAL_MINOR, minor=True)
            ax.tick_params(axis="x", which="major", direction="in", length=7, width=1.3,
                           labelsize=FS, pad=7, colors="#111111", labelcolor="#222222")
            ax.tick_params(axis="x", which="minor", direction="in", length=4, width=1.0)
            if s == 0:
                ax.set_yticks(Y_TICKS)
                if c == 0:
                    ax.set_yticklabels(Y_TICK_LABELS)
                else:
                    ax.set_yticklabels([])
                ax.tick_params(axis="y", direction="in", length=7, width=1.3,
                               labelsize=FS, pad=12, labelcolor="#222222")
            else:
                ax.set_yticks([])

            ax.set_title(ROW_DISTANCES[r][s], fontsize=FS, pad=5, color="#111111")

            if len(d["ey"]):
                ax.errorbar(d["ex"], d["ey"], xerr=d["ee"], fmt="none", ecolor=EXP_COLOR,
                            elinewidth=ELW, capsize=3, capthick=ELW, zorder=2)
            ax.plot(d["ux"], d["uy"], color=LES_COLOR, lw=2.1, zorder=3,
                    solid_joinstyle="round", solid_capstyle="round")
            ax.plot(d["lx"], d["ly"], color=LES_COLOR, lw=2.1, zorder=3,
                    solid_joinstyle="round", solid_capstyle="round")

            if r == 0 and c == 0 and s == 0:
                h_exp = ax.errorbar([np.nan], [np.nan], yerr=[1.0], fmt="none", ecolor=EXP_COLOR,
                                    elinewidth=1.5, capsize=3, capthick=1.5)
                h_les, = ax.plot([np.nan], [np.nan], color=LES_COLOR, lw=2.1)
                legend_handles = [h_exp, h_les]

    yc = (top + bot) / 2
    fig.text(37 / W, 1 - yc / H, "Y [mm]", rotation=90, ha="center", va="center",
             fontsize=FS, color="#222222")

ROW_BOX_Y = [68.7, 469.0, 874.0]
for r in range(3):
    fig.text(33.8 / W, 1 - ROW_BOX_Y[r] / H, ROW_NAMES[r], rotation=90, ha="center", va="center",
             fontsize=18, color="#111111",
             bbox=dict(boxstyle="square,pad=0.3", facecolor="none", edgecolor="#444444", linewidth=1.0))

XLABEL_X = [264, 610, 960]
for c in range(3):
    fig.text(XLABEL_X[c] / W, 1 - 1216 / H, X_LABELS[c], ha="center", va="center",
             fontsize=FS, color="#222222")

leg = fig.legend(legend_handles, ["Expt.", "LES"], loc="upper left",
                 bbox_to_anchor=(107 / W, 1 - 42 / H), bbox_transform=fig.transFigure,
                 frameon=True, fancybox=False, edgecolor="#555555", framealpha=1, facecolor="white",
                 fontsize=14, borderpad=0.45, handlelength=2.2, handletextpad=0.7,
                 labelspacing=0.6, borderaxespad=0)
leg.get_frame().set_linewidth(1.0)

fig.savefig("out.png", dpi=100)
